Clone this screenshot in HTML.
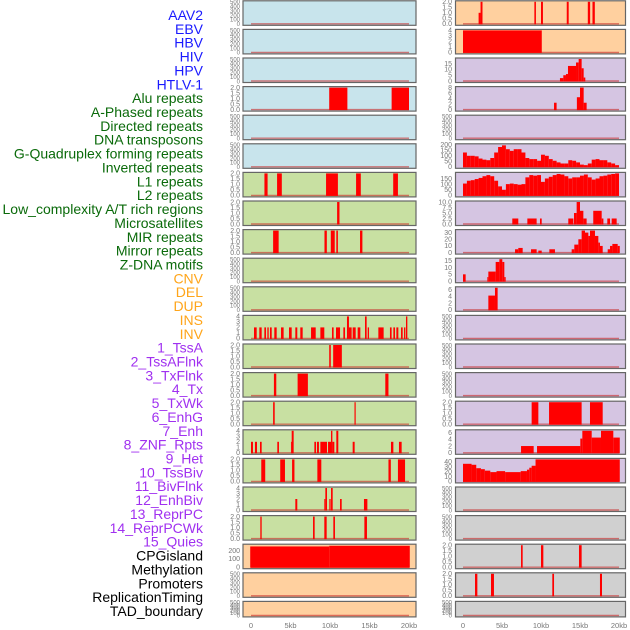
<!DOCTYPE html>
<html><head><meta charset="utf-8">
<style>
html,body{margin:0;padding:0;background:#fff;}
svg{display:block;font-family:"Liberation Sans",sans-serif;}
</style></head>
<body>
<svg id="chart" width="630" height="630" viewBox="0 0 630 630" xmlns="http://www.w3.org/2000/svg"></svg>
<script>
const featureLabels = ["AAV2","EBV","HBV","HIV","HPV","HTLV-1","Alu repeats","A-Phased repeats","Directed repeats","DNA transposons","G-Quadruplex forming repeats","Inverted repeats","L1 repeats","L2 repeats","Low_complexity A/T rich regions","Microsatellites","MIR repeats","Mirror repeats","Z-DNA motifs","CNV","DEL","DUP","INS","INV","1_TssA","2_TssAFlnk","3_TxFlnk","4_Tx","5_TxWk","6_EnhG","7_Enh","8_ZNF_Rpts","9_Het","10_TssBiv","11_BivFlnk","12_EnhBiv","13_ReprPC","14_ReprPCWk","15_Quies","CPGisland","Methylation","Promoters","ReplicationTiming","TAD_boundary"];
const labelColors = ["#1a1aff","#1a1aff","#1a1aff","#1a1aff","#1a1aff","#1a1aff","#0a6a0a","#0a6a0a","#0a6a0a","#0a6a0a","#0a6a0a","#0a6a0a","#0a6a0a","#0a6a0a","#0a6a0a","#0a6a0a","#0a6a0a","#0a6a0a","#0a6a0a","#ffa51a","#ffa51a","#ffa51a","#ffa51a","#ffa51a","#a030f0","#a030f0","#a030f0","#a030f0","#a030f0","#a030f0","#a030f0","#a030f0","#a030f0","#a030f0","#a030f0","#a030f0","#a030f0","#a030f0","#a030f0","#000","#000","#000","#000","#000"];
const xTickValues = [0,5,10,15,20];
const xTickLabels = ["0","5kb","10kb","15kb","20kb"];

// segments: [startKb, endKb, value]
const emptyTicks = [0,100,200,300,400,500];
const ticks2 = [0,0.5,1,1.5,2];
const ticks2Labels = ["0.0","0.5","1.0","1.5","2.0"];
const ticks4 = [0,1,2,3,4];

const leftAlu = [[9.9,12.2,2],[17.8,20,2]];
const leftL1 = [[1.7,2.1,2],[3.3,3.9,2],[9.5,11.0,2],[13.3,13.9,2],[18.0,18.6,2]];
const leftL2 = [[10.9,11.2,2]];
const leftLowComplex = [[2.8,3.5,2],[9.3,9.6,2],[10.1,10.6,2],[10.8,11.0,2],[13.8,14.1,2]];
const leftMirror = [[0.38,0.72,2],[1.05,1.35,2],[1.69,1.9,2],[2.07,2.24,2],[2.4,2.62,2],[2.95,3.25,2],[3.8,4.13,2],[4.81,5.15,2],[5.61,5.86,2],[6.24,6.54,2],[7.6,8.19,2],[8.78,9.28,2],[10.25,10.46,2],[10.76,11.27,2],[11.69,11.9,2],[12.15,12.4,4],[12.4,12.74,2],[12.87,13.25,2],[13.5,13.84,2],[14.43,14.64,4],[14.77,14.94,2],[16.12,16.79,2],[17.59,17.8,2],[18.02,18.23,2],[18.4,18.65,2],[18.99,19.2,2],[19.37,19.54,2],[19.62,19.79,4]];
const leftZdna = [[9.9,10.1,2],[10.4,11.5,2]];
const leftCnv = [[2.9,3.2,2],[5.9,7.2,2],[17.0,17.4,2]];
const leftDel = [[2.8,3.0,2],[13.1,13.25,2]];
const leftDup = [[0,0.25,2],[0.5,0.76,2],[1.14,1.35,2],[3.33,3.54,2],[5.06,5.15,2],[5.15,5.4,4],[8.02,8.23,2],[8.35,8.6,2],[8.78,9.62,2],[9.75,10.13,2],[10.13,10.3,4],[10.3,10.55,2],[10.8,11.05,4],[12.87,13.12,2],[17.72,18.02,2],[18.73,19.07,2]];
const leftIns = [[1.3,1.8,2],[3.7,4.3,2],[5.2,5.5,2],[8.4,8.9,2],[17.4,17.7,2],[18.6,19.5,2]];
const leftInv = [[5.61,5.86,2],[9.28,9.41,2],[9.41,9.62,4],[9.92,10.08,2],[10.13,10.34,4],[11.27,11.48,2],[14.3,14.73,2]];
const leftTssA = [[1.18,1.35,2],[7.85,8.06,2],[9.28,9.58,2],[10.42,10.63,2],[14.35,14.68,2]];
const leftCpg = [[-0.1,9.9,250],[9.9,20.1,258]];

const rightAav2 = [[2.0,2.25,1],[2.25,2.5,2],[9.15,9.35,2],[10.0,10.25,2],[13.3,13.55,2],[16.0,16.3,2],[16.6,16.9,2]];
const rightEbv = [[0,10.1,4]];
const rightHbv = [[12.43,12.86,2.5],[12.86,13.2,5],[13.2,13.46,6],[13.46,14.49,13],[14.49,14.83,16],[14.83,15.21,19],[15.21,15.47,11],[15.47,15.68,3]];
const rightHiv = [[11.67,12.0,2.5],[14.6,15.0,4.5],[15.0,15.47,8],[15.47,15.85,2.5]];
const rightGquadBins = [130,100,100,95,75,65,60,80,130,180,195,160,145,160,160,130,80,70,70,55,110,100,70,55,40,30,30,60,55,40,20,15,30,65,70,60,60,40,30,15];
const rightInvBins = [105,130,135,145,155,170,180,170,130,80,50,100,105,100,95,100,160,180,175,180,120,150,165,180,190,185,170,150,160,160,175,185,160,140,150,170,175,185,190,195];
const rightL2 = [[6.32,7.09,2.5],[8.25,9.44,2.5],[9.87,10.09,2.5],[13.5,14.15,2.5],[14.23,14.57,5],[14.57,15.0,10],[15.0,15.43,6],[15.43,15.85,2.5],[16.7,17.78,6],[17.78,18.0,2.5],[18.5,18.85,2.5],[19.06,19.7,2.5]];
const rightLowComplex = [[6.67,7.09,5],[7.09,7.65,7],[8.72,9.44,5],[9.66,10.09,3],[11.07,11.79,5],[13.93,14.27,5],[14.27,14.79,12],[14.79,15.21,20],[15.21,15.64,33],[15.64,16.07,30],[16.07,16.28,25],[16.28,16.92,33],[16.92,17.35,25],[17.35,17.56,15],[17.56,17.91,10],[18.55,18.85,5],[18.85,19.15,10],[19.15,19.83,13],[19.83,20.1,10]];
const rightMicro = [[0,0.34,5],[3.12,3.25,3],[3.25,4.19,7],[4.19,4.66,14],[4.66,5.04,16],[5.04,5.3,14],[5.3,5.47,3]];
const rightMir = [[3.25,4.1,4.2],[4.1,4.44,6.5]];
const rightDel = [[8.8,9.66,2],[11.03,15.21,2],[16.28,17.91,2]];
const rightDup = [[7.44,9.06,2],[9.49,15.04,2],[15.04,15.3,4.2],[15.3,16.5,6.5],[16.5,17.69,4.5],[17.69,19.27,6.5],[19.27,20.1,4.5]];
const rightIns = [[0,1.1,36],[1.1,1.7,34],[1.7,2.3,27],[2.3,2.8,25],[2.8,3.5,22],[3.5,4.3,19],[4.3,5.4,21],[5.4,7.4,19],[7.4,8.2,21],[8.2,8.5,24],[8.5,8.8,28],[8.8,9.3,32],[9.3,20.1,45]];
const rightCpg = [[7.44,7.65,2],[10.0,10.3,2],[14.87,15.21,2]];
const rightMeth = [[1.54,1.84,2],[3.59,3.97,2],[11.45,11.67,2],[17.56,17.82,2]];

function bins(arr){ return arr.map((v,i)=>[i*0.5,i*0.5+0.5,v]); }

const BLUE="#c8e4ec", GREEN="#c8e0a2", ORANGE="#ffd09f", PURPLE="#d5c5e2", GRAY="#d0d0d0";
function P(bg,data,max,ticks,labels){return {bg,data,max,ticks,labels};}
const leftPanels = [
 P(BLUE,[],500,emptyTicks),P(BLUE,[],500,emptyTicks),P(BLUE,[],500,emptyTicks),
 P(BLUE,leftAlu,2,ticks2,ticks2Labels),P(BLUE,[],500,emptyTicks),P(BLUE,[],500,emptyTicks),
 P(GREEN,leftL1,2,ticks2,ticks2Labels),P(GREEN,leftL2,2,ticks2,ticks2Labels),P(GREEN,leftLowComplex,2,ticks2,ticks2Labels),
 P(GREEN,[],500,emptyTicks),P(GREEN,[],500,emptyTicks),P(GREEN,leftMirror,4,ticks4),
 P(GREEN,leftZdna,2,ticks2,ticks2Labels),P(GREEN,leftCnv,2,ticks2,ticks2Labels),P(GREEN,leftDel,2,ticks2,ticks2Labels),
 P(GREEN,leftDup,4,ticks4),P(GREEN,leftIns,2,ticks2,ticks2Labels),P(GREEN,leftInv,4,ticks4),
 P(GREEN,leftTssA,2,ticks2,ticks2Labels),P(ORANGE,leftCpg,265,[0,100,200]),P(ORANGE,[],500,emptyTicks),P(ORANGE,[],500,emptyTicks)
];
const rightPanels = [
 P(ORANGE,rightAav2,2,ticks2,ticks2Labels),P(ORANGE,rightEbv,4,ticks4),P(PURPLE,rightHbv,19,[0,5,10,15]),
 P(PURPLE,rightHiv,8,[0,2,4,6,8]),P(PURPLE,[],500,emptyTicks),P(PURPLE,bins(rightGquadBins),200,[0,50,100,150,200]),
 P(PURPLE,bins(rightInvBins),195,[0,50,100,150]),P(PURPLE,rightL2,10,[0,2.5,5,7.5,10],["0.0","2.5","5.0","7.5","10.0"]),P(PURPLE,rightLowComplex,33,[0,10,20,30]),
 P(PURPLE,rightMicro,16,[0,5,10,15]),P(PURPLE,rightMir,6.5,[0,2,4,6]),P(PURPLE,[],500,emptyTicks),
 P(PURPLE,[],500,emptyTicks),P(PURPLE,[],500,emptyTicks),P(PURPLE,rightDel,2,ticks2,ticks2Labels),
 P(PURPLE,rightDup,6.5,[0,2,4,6]),P(PURPLE,rightIns,45,[0,10,20,30,40]),P(GRAY,[],500,emptyTicks),
 P(GRAY,[],500,emptyTicks),P(GRAY,rightCpg,2,ticks2,ticks2Labels),P(GRAY,rightMeth,2,ticks2,ticks2Labels),P(GRAY,[],500,emptyTicks)
];

const svg=document.getElementById('chart');
const NS="http://www.w3.org/2000/svg";
function el(tag,attrs,parent){const e=document.createElementNS(NS,tag);for(const k in attrs)e.setAttribute(k,attrs[k]);(parent||svg).appendChild(e);return e;}

const lg=el('g',{});


featureLabels.forEach((t,i)=>{
  const tx=el('text',{x:203,y:20+i*13.86,'text-anchor':'end','font-size':14,fill:labelColors[i]},lg);
  tx.textContent=t;
  
  
});

const cols=[{x0:243,x1:416,zero:251,scale:7.9,tickX:240,panels:leftPanels,name:'left'},
            {x0:455.5,x1:625.5,zero:463,scale:7.8,tickX:452,panels:rightPanels,name:'right'}];
cols.forEach(c=>{
  const xs=kb=>c.zero+kb*c.scale;
  c.panels.forEach((p,i)=>{
    const top=0.8+28.6*i, h=(i===21)?15.5:24.5, bot=top+h;
    const y0=bot-1.5, ys=v=>y0-v/p.max*(h-2.5);
    const g=el('g',{});
    
    
    el('rect',{x:c.x0,y:top,width:c.x1-c.x0,height:h,fill:p.bg,stroke:'#666','stroke-width':1.2},g);
    el('line',{x1:xs(0),x2:xs(20),y1:y0,y2:y0,stroke:'rgba(200,40,40,0.6)','stroke-width':1.4},g);
    p.data.forEach(s=>{
      const b=el('rect',{x:xs(s[0]),y:ys(s[2]),width:Math.max(0.8,xs(s[1])-xs(s[0])),height:y0-ys(s[2])+0.5,fill:'#ff0000'},g);
      
      
    });
    p.ticks.forEach((t,k)=>{
      const tt=el('text',{x:c.tickX,y:ys(t)+2.3,'text-anchor':'end','font-size':p.max===500?6:7,fill:'#777'},g);
      tt.textContent=p.labels?p.labels[k]:String(t);
      
      
    });
  });
  xTickValues.forEach((v,k)=>{
    const t=el('text',{x:xs(v),y:628,'text-anchor':'middle','font-size':7.5,fill:'#777'});
    t.textContent=xTickLabels[k];
    
    
  });
});
</script>
</body></html>
